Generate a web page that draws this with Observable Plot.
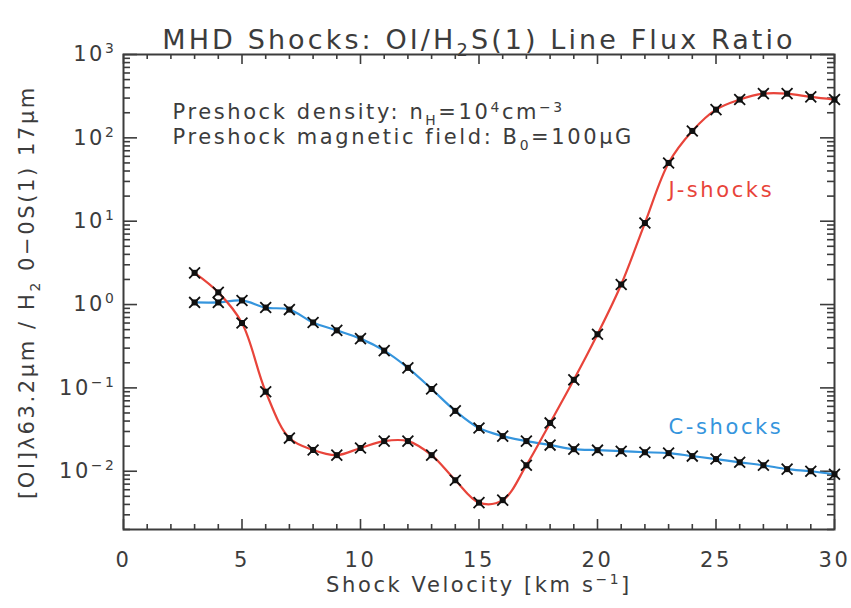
<!DOCTYPE html>
<html><head><meta charset="utf-8">
<script src="https://cdn.jsdelivr.net/npm/d3@7"></script>
<script src="https://cdn.jsdelivr.net/npm/@observablehq/plot@0.6"></script>
<style>
html,body{margin:0;padding:0;background:#fff;}
#chart svg{display:block;}
#chart text{letter-spacing:2.6px;}
#chart .ttl text{letter-spacing:3.1px;}
</style></head><body><div id="chart"></div>
<script>
// ---- data ----
const velocity = [3,4,5,6,7,8,9,10,11,12,13,14,15,16,17,18,19,20,21,22,23,24,25,26,27,28,29,30];
const jShocks = [2.4,1.4,0.6,0.09,0.025,0.018,0.0156,0.019,0.023,0.023,0.0156,0.0078,0.0042,0.0045,0.0118,0.038,0.125,0.44,1.74,9.5,50,121,218,288,339,339,310,288];
const cShocks = [1.06,1.06,1.12,0.92,0.87,0.61,0.49,0.39,0.28,0.174,0.097,0.053,0.033,0.0264,0.023,0.0206,0.0184,0.0179,0.0174,0.0169,0.0165,0.0152,0.014,0.0128,0.0118,0.0106,0.01,0.0092];
const xMajorTicks = [0,5,10,15,20,25,30];
const xTickLabels = ["0","5","10","15","20","25","30"];
const yMajorTicks = [1e-2,1e-1,1e0,1e1,1e2,1e3];
const yTickLabels = ["10^{−2}","10^{−1}","10^{0}","10^{1}","10^{2}","10^{3}"];
const labelVelocity = 23;
const titleText = "MHD Shocks: OI/H_{2}S(1) Line Flux Ratio";
const xTitle = "Shock Velocity [km s^{−1}]";
const yTitle = "[OI]λ63.2μm / H_{2} 0−0S(1) 17μm";
const note1 = "Preshock density: n_{H}=10^{4}cm^{−3}";
const note2 = "Preshock magnetic field: B_{0}=100μG";

const RED = "#e8443a", BLUE = "#3595dd", INK = "#3c3c3c";

const jRows = velocity.map((v,i) => ({v, value: jShocks[i]}));
const cRows = velocity.map((v,i) => ({v, value: cShocks[i]}));
const xMinor = [1,2,3,4,6,7,8,9,11,12,13,14,16,17,18,19,21,22,23,24,26,27,28,29];
const yMinor = [];
for (let e = -3; e <= 2; e++) for (let k = 2; k <= 9; k++) { const t = k * Math.pow(10, e); if (t >= 0.002 && t <= 1000) yMinor.push(t); }

const PW = 851, PH = 608, ML = 123, MR = 17, MT = 54, MB = 79;
const FW = PW - ML - MR, FH = PH - MT - MB;
const FS = 21;

const chart = Plot.plot({
  width: PW, height: PH,
  marginLeft: ML, marginRight: MR, marginTop: MT, marginBottom: MB,
  style: {fontFamily: "DejaVu Sans, sans-serif", background: "#fff"},
  x: {domain: [0, 30], axis: null},
  y: {type: "log", domain: [0.002, 1000], axis: null},
  marks: [
    Plot.frame({stroke: INK, strokeWidth: 2}),
    // inward ticks along all four sides of the frame
    Plot.tickX(xMinor, {x: d => d, insetTop: FH - 5, stroke: INK, strokeWidth: 1.6}),
    Plot.tickX(xMajorTicks, {x: d => d, insetTop: FH - 10, stroke: INK, strokeWidth: 1.6}),
    Plot.tickX(xMinor, {x: d => d, insetBottom: FH - 5, stroke: INK, strokeWidth: 1.6}),
    Plot.tickX(xMajorTicks, {x: d => d, insetBottom: FH - 10, stroke: INK, strokeWidth: 1.6}),
    Plot.tickY(yMinor, {y: d => d, insetRight: FW - 7, stroke: INK, strokeWidth: 1.6}),
    Plot.tickY(yMajorTicks, {y: d => d, insetRight: FW - 14, stroke: INK, strokeWidth: 1.6}),
    Plot.tickY(yMinor, {y: d => d, insetLeft: FW - 7, stroke: INK, strokeWidth: 1.6}),
    Plot.tickY(yMajorTicks, {y: d => d, insetLeft: FW - 14, stroke: INK, strokeWidth: 1.6}),
    // tick labels
    Plot.text(xMajorTicks, {x: d => d, frameAnchor: "bottom", lineAnchor: "top", dy: 23, text: (d, i) => xTickLabels[i], fill: INK, fontSize: FS}),
    Plot.text(yMajorTicks, {y: d => d, frameAnchor: "left", textAnchor: "end", dx: -7, text: (d, i) => yTickLabels[i], fill: INK, fontSize: FS}),
    // series
    Plot.line(cRows, {x: "v", y: "value", stroke: BLUE, strokeWidth: 2.2, curve: "catmull-rom"}),
    Plot.line(jRows, {x: "v", y: "value", stroke: RED, strokeWidth: 2.2, curve: "catmull-rom"}),
    Plot.dot(cRows, {x: "v", y: "value", symbol: "square", r: 3.4, fill: "#111"}),
    Plot.dot(jRows, {x: "v", y: "value", symbol: "square", r: 3.4, fill: "#111"}),
    Plot.dot(cRows, {x: "v", y: "value", symbol: "times", r: 5, stroke: "#111", strokeWidth: 1.8}),
    Plot.dot(jRows, {x: "v", y: "value", symbol: "times", r: 5, stroke: "#111", strokeWidth: 1.8}),
    // series labels anchored on data points
    Plot.text(jRows.filter(d => d.v === labelVelocity), {x: "v", y: "value", text: () => "J-shocks", textAnchor: "start", dy: 27, fill: RED, fontSize: FS}),
    Plot.text(cRows.filter(d => d.v === labelVelocity), {x: "v", y: "value", text: () => "C-shocks", textAnchor: "start", dy: -26, fill: BLUE, fontSize: FS}),
    // annotations
    Plot.text([note1], {frameAnchor: "top-left", textAnchor: "start", dx: 49, dy: 50, fill: INK, fontSize: FS}),
    Plot.text([note2], {frameAnchor: "top-left", textAnchor: "start", dx: 49, dy: 75, fill: INK, fontSize: FS}),
    // titles
    Plot.text([titleText], {frameAnchor: "top", textAnchor: "middle", dy: -25, fill: INK, fontSize: 27, className: "ttl"}),
    Plot.text([xTitle], {frameAnchor: "bottom", textAnchor: "middle", dy: 62, fill: INK, fontSize: FS}),
    Plot.text([yTitle], {frameAnchor: "left", textAnchor: "middle", dx: -96, rotate: -90, fill: INK, fontSize: FS})
  ]
});

// rich text: ^{..} superscript, _{..} subscript
function richify(svg) {
  svg.querySelectorAll("text").forEach(t => {
    const s = t.textContent;
    if (!/[\^_]\{/.test(s)) return;
    const holder = t.closest("[font-size]");
    const fs = parseFloat(holder ? holder.getAttribute("font-size") : FS);
    while (t.firstChild) t.removeChild(t.firstChild);
    let shift = 0;
    const add = (txt, kind) => {
      const ts = document.createElementNS("http://www.w3.org/2000/svg", "tspan");
      const target = kind === "^" ? -0.37 * fs : kind === "_" ? 0.26 * fs : 0;
      ts.setAttribute("dy", target - shift);
      shift = target;
      if (kind) ts.setAttribute("font-size", 0.66 * fs);
      ts.textContent = txt;
      t.appendChild(ts);
    };
    const re = /([\^_])\{([^}]*)\}/g;
    let last = 0, m;
    while ((m = re.exec(s))) {
      if (m.index > last) add(s.slice(last, m.index), null);
      add(m[2], m[1]);
      last = re.lastIndex;
    }
    if (last < s.length) add(s.slice(last), null);
  });
}
richify(chart);
document.getElementById("chart").appendChild(chart);
</script></body></html>
